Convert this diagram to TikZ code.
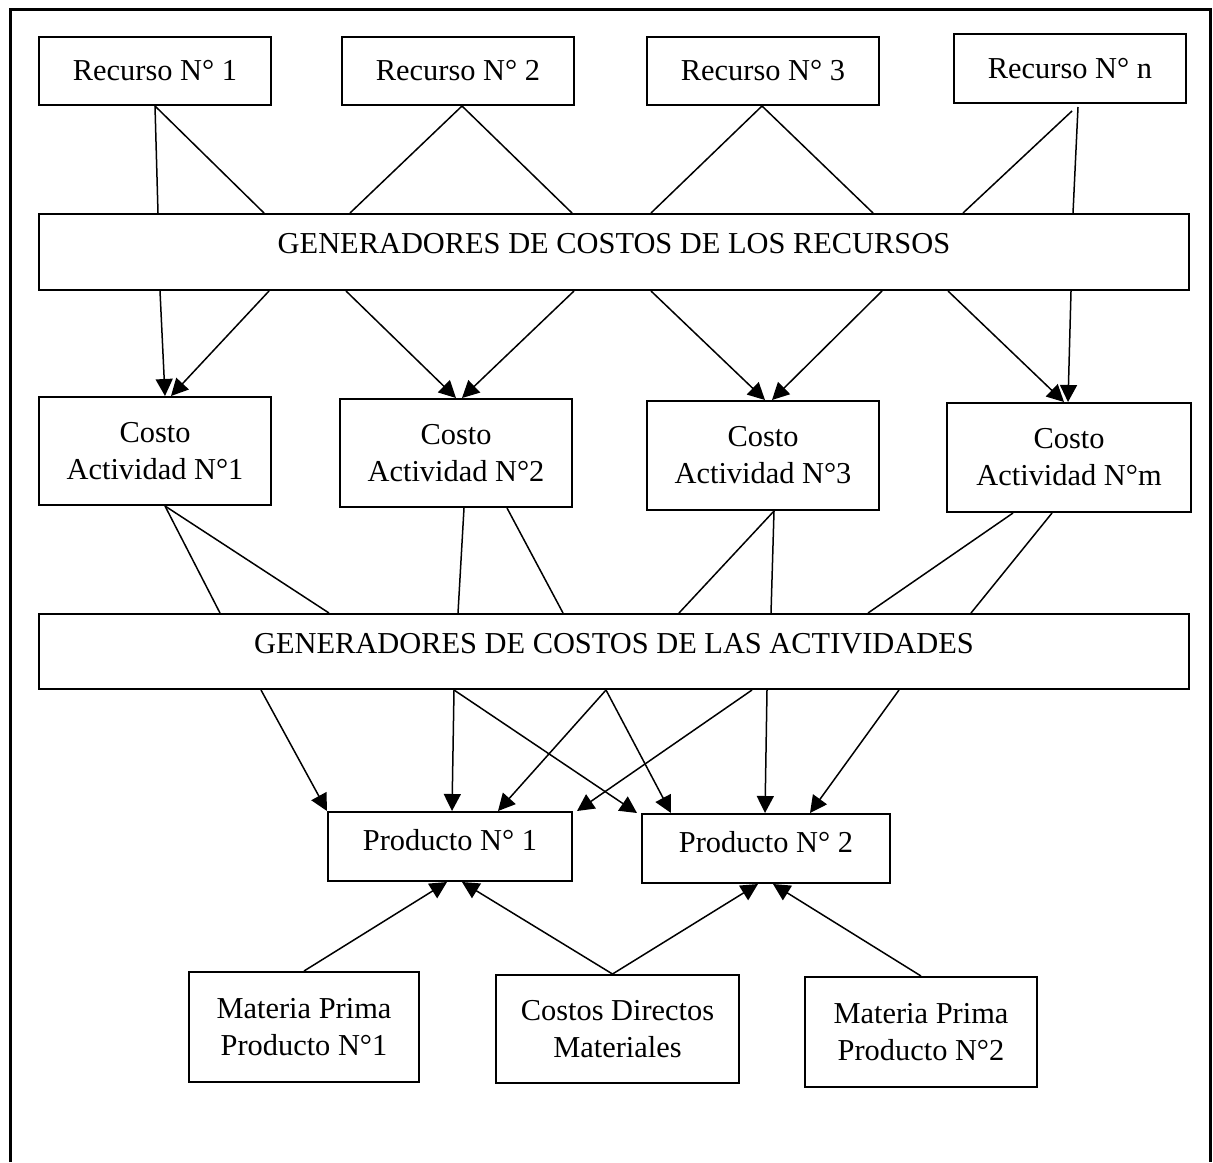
\documentclass[tikz,border=0pt]{standalone}
\usepackage{fontspec}
\setmainfont{Liberation Serif}
\usetikzlibrary{arrows.meta,calc}
\begin{document}
\begin{tikzpicture}[x=0.5pt,y=-0.5pt,
  box/.style={draw, line width=1pt, inner sep=0pt, align=center,
              font=\fontsize{15.2}{18.5}\selectfont},
  link/.style={line width=0.75pt},
  arr/.style={line width=0.75pt, -{Triangle[length=8.5pt,width=8.5pt]}},
]
\useasboundingbox (0,0) rectangle (1213,1162);
\fill[white] (0,0) rectangle (1213,1162);
% outer frame, open at the bottom
\draw[line width=1.5pt] (10,1162) -- (10,9) -- (1210,9) -- (1210,1162);

% resources
\node[box, minimum width=116pt, minimum height=34pt] (r1) at (155,71) {Recurso N° 1};
\node[box, minimum width=116pt, minimum height=34pt] (r2) at (458,71) {Recurso N° 2};
\node[box, minimum width=116pt, minimum height=34pt] (r3) at (763,71) {Recurso N° 3};
\node[box, minimum width=116pt, minimum height=34.5pt] (rn) at (1070,68.5) {Recurso N° n};

% resource cost drivers
\node[box, minimum width=575pt, minimum height=38pt] (g1) at (614,252)
  {\raisebox{4pt}[\height][\depth]{GENERADORES DE COSTOS DE LOS RECURSOS}};

% activity costs
\node[box, minimum width=116pt, minimum height=54pt] (c1) at (155,451) {Costo\\Actividad N°1};
\node[box, minimum width=116pt, minimum height=54pt] (c2) at (456,453) {Costo\\Actividad N°2};
\node[box, minimum width=116pt, minimum height=54.5pt] (c3) at (763,455.5) {Costo\\Actividad N°3};
\node[box, minimum width=122pt, minimum height=54.5pt] (cm) at (1069,457.5) {Costo\\Actividad N°m};

% activity cost drivers
\node[box, minimum width=575pt, minimum height=37.5pt] (g2) at (614,651.5)
  {\raisebox{4pt}[\height][\depth]{GENERADORES DE COSTOS DE LAS ACTIVIDADES}};

% products
\node[box, minimum width=122pt, minimum height=34.5pt] (p1) at (450,846.5)
  {\raisebox{3pt}[\height][\depth]{Producto N° 1}};
\node[box, minimum width=124pt, minimum height=34.5pt] (p2) at (766,848.5)
  {\raisebox{3pt}[\height][\depth]{Producto N° 2}};

% direct costs
\node[box, minimum width=115pt, minimum height=55pt] (m1) at (304,1027) {Materia Prima\\Producto N°1};
\node[box, minimum width=121.5pt, minimum height=54pt] (cd) at (617.5,1029) {Costos Directos\\Materiales};
\node[box, minimum width=116pt, minimum height=55pt] (m2) at (921,1032) {Materia Prima\\Producto N°2};

% resources -> resource cost drivers
\draw[link] (r1.south) -- ($(g1.north west)+(120,0)$);
\draw[link] (r1.south) -- ($(g1.north west)+(226,0)$);
\draw[link] ($(r2.south)+(4,0)$) -- ($(g1.north west)+(312,0)$);
\draw[link] ($(r2.south)+(4,0)$) -- ($(g1.north west)+(534,0)$);
\draw[link] ($(r3.south)+(-1,0)$) -- ($(g1.north west)+(613,0)$);
\draw[link] ($(r3.south)+(-1,0)$) -- ($(g1.north west)+(835,0)$);
\draw[link] ($(rn.south)+(2,7)$) -- ($(g1.north west)+(925,0)$);
\draw[link] ($(rn.south)+(8,3)$) -- ($(g1.north west)+(1035,0)$);

% resource cost drivers -> activity costs
\draw[arr] ($(g1.south west)+(122,0)$) -- ($(c1.north)+(10,0)$);
\draw[arr] ($(g1.south west)+(231,0)$) -- ($(c1.north)+(16,0)$);
\draw[arr] ($(g1.south west)+(308,0)$) -- ($(c2.north)+(0,0)$);
\draw[arr] ($(g1.south west)+(536,0)$) -- ($(c2.north)+(6,0)$);
\draw[arr] ($(g1.south west)+(613,0)$) -- ($(c3.north)+(2,0)$);
\draw[arr] ($(g1.south west)+(844,0)$) -- ($(c3.north)+(9,0)$);
\draw[arr] ($(g1.south west)+(910,0)$) -- ($(cm.north)+(-5,0)$);
\draw[arr] ($(g1.south west)+(1033,0)$) -- ($(cm.north)+(-1,0)$);

% activity costs -> activity cost drivers
\draw[link] ($(c1.south)+(10,0)$) -- ($(g2.north west)+(182,0)$);
\draw[link] ($(c1.south)+(10,0)$) -- ($(g2.north west)+(291,0)$);
\draw[link] ($(c2.south)+(8,0)$) -- ($(g2.north west)+(420,0)$);
\draw[link] ($(c2.south)+(51,0)$) -- ($(g2.north west)+(525,0)$);
\draw[link] ($(c3.south)+(11,0)$) -- ($(g2.north west)+(641,0)$);
\draw[link] ($(c3.south)+(11,0)$) -- ($(g2.north west)+(733,0)$);
\draw[link] ($(cm.south)+(-56,0)$) -- ($(g2.north west)+(830,0)$);
\draw[link] ($(cm.south)+(-17,0)$) -- ($(g2.north west)+(933,0)$);

% activity cost drivers -> products
\draw[arr] ($(g2.south west)+(223,0)$) -- (p1.north west);
\draw[arr] ($(g2.south west)+(416,0)$) -- ($(p1.north)+(2,0)$);
\draw[arr] ($(g2.south west)+(416,0)$) -- ($(p2.north west)+(-4,0)$);
\draw[arr] ($(g2.south west)+(568,0)$) -- ($(p1.north)+(48,0)$);
\draw[arr] ($(g2.south west)+(568,0)$) -- ($(p2.north west)+(30,0)$);
\draw[arr] ($(g2.south west)+(714,0)$) -- ($(p1.north east)+(4,0)$);
\draw[arr] ($(g2.south west)+(729,0)$) -- ($(p2.north)+(-1,0)$);
\draw[arr] ($(g2.south west)+(861,0)$) -- ($(p2.north)+(44,0)$);

% direct costs -> products
\draw[arr] (m1.north) -- ($(p1.south)+(-3,0)$);
\draw[arr] ($(cd.north)+(-5,0)$) -- ($(p1.south)+(12,0)$);
\draw[arr] ($(cd.north)+(-5,0)$) -- ($(p2.south)+(-8,0)$);
\draw[arr] (m2.north) -- ($(p2.south)+(7,0)$);
\end{tikzpicture}
\end{document}
